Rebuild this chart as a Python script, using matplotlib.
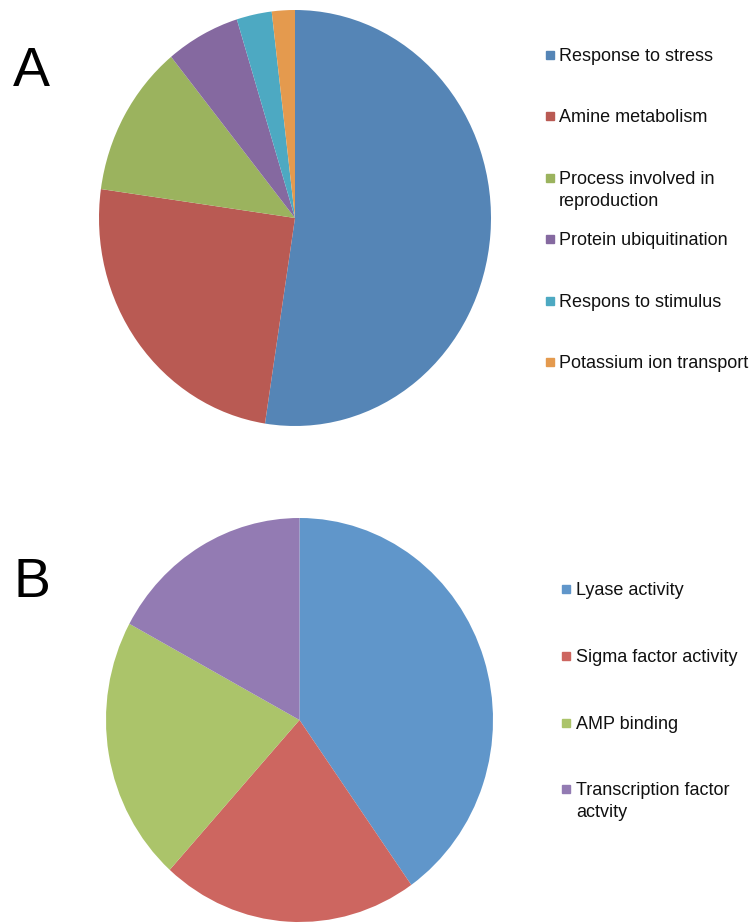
import matplotlib
matplotlib.use("Agg")
import matplotlib.pyplot as plt
from matplotlib.patches import Rectangle

plt.rcParams['font.family'] = ['Liberation Sans', 'DejaVu Sans']

# panel A
labels_a = ["Response to stress", "Amine metabolism", "Process involved in\nreproduction",
            "Protein ubiquitination", "Respons to stimulus", "Potassium ion transport"]
values_a = [52.5, 24.8, 11.9, 6.1, 2.9, 1.9]
colors_a = ["#5585B6", "#B95A53", "#9BB35E", "#8569A0", "#4DA9C2", "#E49A4E"]

# panel B
labels_b = ["Lyase activity", "Sigma factor activity", "AMP binding",
            "Transcription factor\nactvity"]
values_b = [40.2, 21.5, 21.2, 17.1]
colors_b = ["#6096CA", "#CD6660", "#ABC46A", "#937BB3"]

W, H = 753, 924
fig = plt.figure(figsize=(W / 100, H / 100), dpi=100)


def px_axes(x0, y0, x1, y1):
    # pixel box (top-left origin) -> figure axes
    return fig.add_axes([x0 / W, 1 - y1 / H, (x1 - x0) / W, (y1 - y0) / H])


def draw_pie(ax, values, colors):
    ax.pie(values, colors=colors, startangle=90, counterclock=False,
           radius=1, wedgeprops=dict(linewidth=0))
    ax.set_aspect('auto')
    ax.set_xlim(-1, 1)
    ax.set_ylim(-1, 1)
    ax.axis('off')


def draw_legend(labels, colors, sq_x, text_x, ys):
    for lab, col, y in zip(labels, colors, ys):
        fig.patches.append(Rectangle((sq_x / W, 1 - (y + 4) / H), 8 / W, 8 / H,
                                     transform=fig.transFigure, color=col))
        fig.text(text_x / W, 1 - (y + 6) / H, lab.split("\n")[0], fontsize=13,
                 va='baseline', ha='left', color='#111111')
        if "\n" in lab:
            fig.text(text_x / W, 1 - (y + 28) / H, lab.split("\n")[1], fontsize=13,
                     va='baseline', ha='left', color='#111111')


ax_a = px_axes(99, 10, 491, 426)
draw_pie(ax_a, values_a, colors_a)
ax_b = px_axes(106, 518, 493, 922)
draw_pie(ax_b, values_b, colors_b)

draw_legend(labels_a, colors_a, 546, 559, [55, 116, 178, 239, 301, 362])
draw_legend(labels_b, colors_b, 562, 576, [589, 656, 723, 789])

fig.text(13 / W, 1 - 86 / H, "A", fontsize=40, ha='left', va='baseline')
fig.text(13 / W, 1 - 597 / H, "B", fontsize=40, ha='left', va='baseline')

fig.savefig("out.png", dpi=100)
